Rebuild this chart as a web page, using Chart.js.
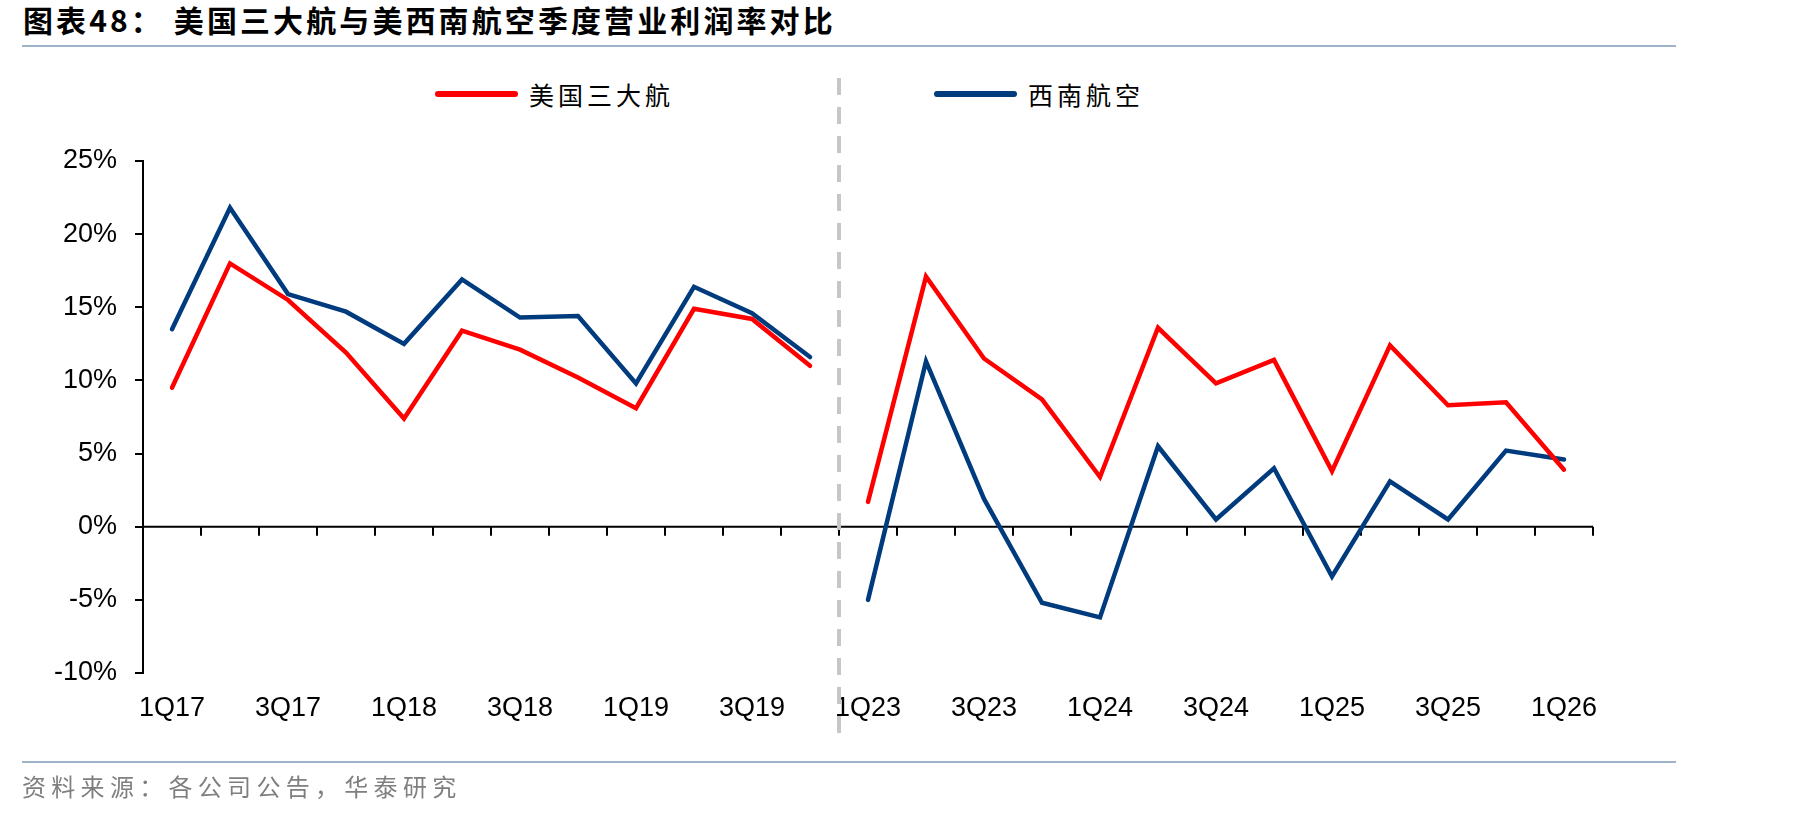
<!DOCTYPE html>
<html>
<head>
<meta charset="utf-8">
<script src="https://cdn.jsdelivr.net/npm/chart.js@4.4.1/dist/chart.umd.min.js"></script>
<style>
  body { margin: 0; width: 1819px; height: 816px; background: #fff; position: relative; overflow: hidden; font-family: "Noto Sans CJK SC", sans-serif; }
  canvas { position: absolute; left: 0; top: 0; }
  #title { position: absolute; left: 23px; top: 1px; font-size: 30px; line-height: 36px; font-weight: bold; letter-spacing: 3.1px; white-space: pre; color: #000; }
  .rule { position: absolute; left: 22px; width: 1654px; height: 2px; background: #9fb4c9; }
  #source { position: absolute; left: 22px; top: 771px; font-size: 24px; line-height: 30px; color: #7f7f7f; letter-spacing: 5.3px; }
  .leg { position: absolute; top: 79px; height: 30px; display: flex; align-items: center; font-size: 25px; letter-spacing: 4px; color: #000; }
  .leg i { display: inline-block; width: 83px; height: 6px; border-radius: 3px; margin-right: 11px; }
</style>
</head>
<body>
<div id="title">图表48： 美国三大航与美西南航空季度营业利润率对比</div>
<div class="rule" style="top:45px"></div>
<div id="legend"></div>
<canvas id="chart" width="1819" height="816"></canvas>
<div class="rule" style="top:761px"></div>
<div id="source">资料来源：各公司公告，华泰研究</div>
<script>
// quarters: 2017-2019, then 2023-1Q26 (the dashed line marks the break)
const quarters = [
  "1Q17", "2Q17", "3Q17", "4Q17", "1Q18", "2Q18", "3Q18", "4Q18", "1Q19", "2Q19", "3Q19", "4Q19",
  "1Q23", "2Q23", "3Q23", "4Q23", "1Q24", "2Q24", "3Q24", "4Q24", "1Q25", "2Q25", "3Q25", "4Q25", "1Q26"
];
const breakAfter = "4Q19";

// operating margin, %
const bigThree = [
  9.5, 18.0, 15.5, 11.9, 7.4, 13.4, 12.1, 10.2, 8.1, 14.9, 14.2, 11.0,
  1.7, 17.1, 11.5, 8.7, 3.4, 13.6, 9.8, 11.4, 3.8, 12.4, 8.3, 8.5, 3.9
];
const southwest = [
  13.5, 21.8, 15.9, 14.7, 12.5, 16.9, 14.3, 14.4, 9.8, 16.4, 14.6, 11.6,
  -5.0, 11.3, 1.9, -5.2, -6.2, 5.5, 0.5, 4.0, -3.4, 3.1, 0.5, 5.2, 4.6
];

const seriesNames = ["美国三大航", "西南航空"];
const seriesColors = ["#ff0000", "#003b7e"];

const yMin = -10;
const yMax = 25;
const yStep = 5;

const breakIndex = quarters.indexOf(breakAfter);

// zero axis with tick marks + dashed separator between the two periods
const axisAndBreak = {
  id: "axisAndBreak",
  beforeDatasetsDraw(chart) {
    const { ctx, chartArea, scales: { x, y } } = chart;
    const y0 = y.getPixelForValue(0);
    const half = (x.getPixelForValue(1) - x.getPixelForValue(0)) / 2;
    ctx.save();
    ctx.strokeStyle = "#000";
    ctx.lineWidth = 2;
    ctx.beginPath();
    ctx.moveTo(chartArea.left, y0);
    ctx.lineTo(chartArea.right, y0);
    for (let i = 0; i <= quarters.length; i++) {
      const px = x.getPixelForValue(i) - half;
      ctx.moveTo(px, y0);
      ctx.lineTo(px, y0 + 9);
    }
    ctx.stroke();

    const bx = (x.getPixelForValue(breakIndex) + x.getPixelForValue(breakIndex + 1)) / 2;
    ctx.strokeStyle = "#c6c6c6";
    ctx.lineWidth = 4;
    ctx.setLineDash([17, 12]);
    ctx.beginPath();
    ctx.moveTo(bx, 78);
    ctx.lineTo(bx, 735);
    ctx.stroke();
    ctx.restore();
  }
};

const hideBreak = (ctx) => (ctx.p0DataIndex === breakIndex ? "transparent" : undefined);

const chart = new Chart(document.getElementById("chart"), {
  type: "line",
  data: {
    labels: quarters,
    datasets: [
      { label: seriesNames[0], data: bigThree, borderColor: seriesColors[0], segment: { borderColor: hideBreak } },
      { label: seriesNames[1], data: southwest, borderColor: seriesColors[1], segment: { borderColor: hideBreak } }
    ]
  },
  options: {
    responsive: false,
    animation: false,
    layout: { padding: { top: 161, right: 226, bottom: 83, left: 0 } },
    elements: {
      line: { borderWidth: 4.5, tension: 0, borderJoinStyle: "miter", borderCapStyle: "round" },
      point: { radius: 0, hoverRadius: 0 }
    },
    plugins: {
      legend: { display: false },
      tooltip: { enabled: false }
    },
    scales: {
      x: {
        offset: true,
        grid: { display: false, drawTicks: false },
        border: { display: false },
        afterFit: (scale) => { scale.height = 60; },
        ticks: {
          autoSkip: false,
          maxRotation: 0,
          padding: 19,
          color: "#000",
          font: { family: "Liberation Sans, Arial", size: 27 },
          callback: (value, index) => (index % 2 === 0 ? quarters[index] : "")
        }
      },
      y: {
        min: yMin,
        max: yMax,
        afterFit: (scale) => { scale.width = 143; },
        grid: { drawOnChartArea: false, drawTicks: true, tickLength: 8, color: "#000", lineWidth: 2 },
        border: { display: true, color: "#000", width: 2 },
        ticks: {
          stepSize: yStep,
          padding: 18,
          color: "#000",
          font: { family: "Liberation Sans, Arial", size: 27 },
          callback: (v) => v + "%"
        }
      }
    }
  },
  plugins: [axisAndBreak]
});

// legend built from the datasets
const legendLeft = [435, 934];
const legend = document.getElementById("legend");
chart.data.datasets.forEach((ds, i) => {
  const item = document.createElement("div");
  item.className = "leg";
  item.style.left = legendLeft[i] + "px";
  item.innerHTML = `<i style="background:${ds.borderColor}"></i><span>${ds.label}</span>`;
  legend.appendChild(item);
});
</script>
</body>
</html>
